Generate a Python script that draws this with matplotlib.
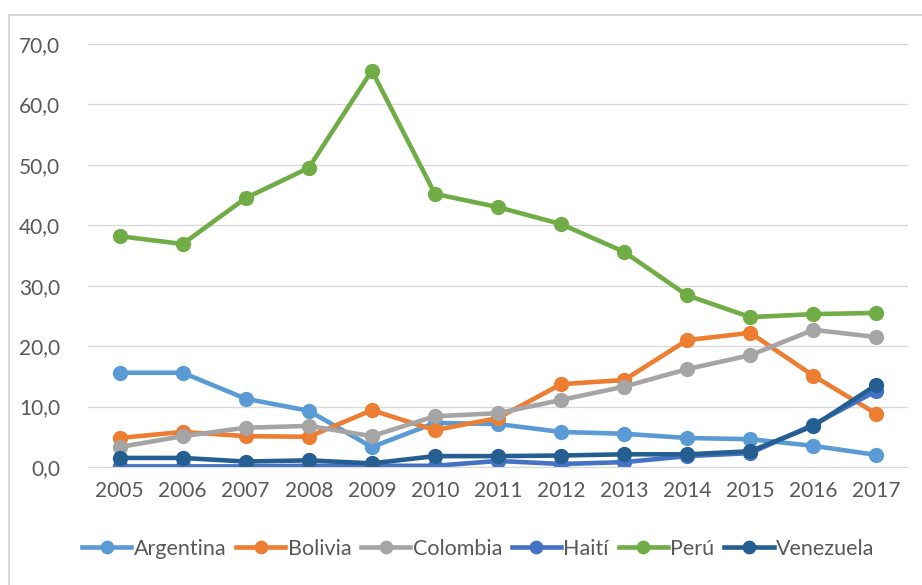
import matplotlib
matplotlib.use('Agg')
import matplotlib.pyplot as plt
from matplotlib.patches import Rectangle
from matplotlib.ticker import FuncFormatter

plt.rcParams['font.family'] = ['Lato', 'DejaVu Sans']

#----------------------------------------------------
# Data
#----------------------------------------------------
years = ['2005', '2006', '2007', '2008', '2009', '2010', '2011',
         '2012', '2013', '2014', '2015', '2016', '2017']

argentina = [15.6, 15.6, 11.3, 9.3, 3.3, 7.3, 7.1, 5.8, 5.5, 4.8, 4.6, 3.5, 2.0]
bolivia   = [4.8, 5.8, 5.1, 5.0, 9.4, 6.1, 8.1, 13.7, 14.4, 21.0, 22.2, 15.1, 8.8]
colombia  = [3.3, 5.1, 6.5, 6.8, 5.1, 8.4, 8.9, 11.1, 13.3, 16.2, 18.5, 22.7, 21.5]
haiti     = [0.1, 0.1, 0.1, 0.2, 0.2, 0.2, 1.0, 0.5, 0.8, 1.8, 2.3, 7.0, 12.6]
peru      = [38.2, 36.9, 44.5, 49.5, 65.6, 45.2, 43.0, 40.2, 35.6, 28.4, 24.8, 25.3, 25.5]
venezuela = [1.5, 1.5, 0.9, 1.1, 0.6, 1.8, 1.8, 1.9, 2.1, 2.1, 2.6, 6.8, 13.6]

series = [('Argentina', argentina, '#5B9BD5'),
          ('Bolivia', bolivia, '#ED7D31'),
          ('Colombia', colombia, '#A5A5A5'),
          ('Haití', haiti, '#4472C4'),
          ('Perú', peru, '#70AD47'),
          ('Venezuela', venezuela, '#255E91')]

#----------------------------------------------------
# Plot
#----------------------------------------------------
fig = plt.figure(figsize=(9.22, 5.85), dpi=100)
ax = fig.add_axes([88/922, 118/585, 820/922, 423/585])

# light frame around the chart area
fig.patches.append(Rectangle((9/922, -0.1), 1.2, (585-15)/585 + 0.1,
                             transform=fig.transFigure, fill=False,
                             edgecolor='#D9D9D9', linewidth=1.5))

x = list(range(len(years)))
for name, vals, col in series:
    ax.plot(x, vals, '-o', color=col, linewidth=3.3, markersize=11,
            markeredgewidth=0, label=name)

ax.set_xlim(-0.5, len(years) - 0.5)
ax.set_ylim(0, 70)
ax.set_yticks(range(0, 71, 10))
ax.yaxis.set_major_formatter(FuncFormatter(lambda v, p: ('%.1f' % v).replace('.', ',')))
ax.set_xticks(x)
ax.set_xticklabels(years)
ax.grid(axis='y', color='#D9D9D9', linewidth=1)
ax.set_axisbelow(True)
for s in ['top', 'right', 'left']:
    ax.spines[s].set_visible(False)
ax.spines['bottom'].set_color('#D9D9D9')
ax.tick_params(axis='both', length=0, labelsize=15, colors='#595959')
ax.tick_params(axis='x', pad=10)
ax.tick_params(axis='y', pad=20)

leg = fig.legend(loc='center', bbox_to_anchor=(478/922, 36/585), ncol=6,
                 frameon=False, fontsize=15.5, handlelength=2.3,
                 handletextpad=0.1, columnspacing=0.45, markerscale=0.9)
for t in leg.get_texts():
    t.set_color('#595959')

fig.savefig('out.png', dpi=100)
